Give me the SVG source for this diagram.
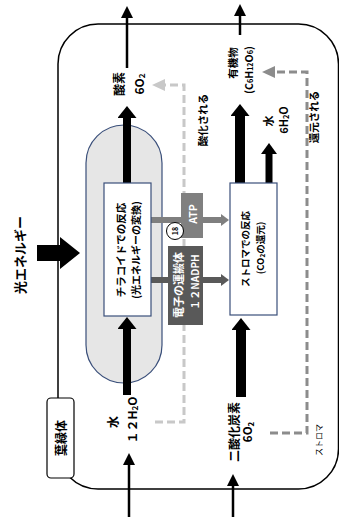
<svg xmlns="http://www.w3.org/2000/svg" width="339" height="517" viewBox="0 0 339 517">
<style>
.t{font-family:"Noto Sans CJK JP","Liberation Sans",sans-serif;font-weight:bold;fill:#000;text-anchor:middle;dominant-baseline:central}
.s{font-size:0.68em}
.w{fill:#fff}
.n{font-weight:normal}
.thin{stroke:#000;stroke-width:2.5;fill:none}
.thick{stroke:#000;fill:none}
.dl{stroke:#c8c8c8;stroke-width:3;fill:none;stroke-dasharray:8 4}
.dd{stroke:#8c8c8c;stroke-width:3;fill:none;stroke-dasharray:8 4}
.nav{stroke:#3a4f7a;stroke-width:1.2}
</style>
<defs>
<marker id="ah" markerUnits="userSpaceOnUse" viewBox="0 0 12 12" markerWidth="12" markerHeight="12" refX="1" refY="6" orient="auto"><path d="M0,0 L12,6 L0,12 Z" fill="#000"/></marker>
<marker id="ahB" markerUnits="userSpaceOnUse" viewBox="0 0 12 19" markerWidth="12" markerHeight="19" refX="1" refY="9.5" orient="auto"><path d="M0,0 L12,9.5 L0,19 Z" fill="#000"/></marker>
<marker id="ahM" markerUnits="userSpaceOnUse" viewBox="0 0 11 16" markerWidth="11" markerHeight="16" refX="1" refY="8" orient="auto"><path d="M0,0 L11,8 L0,16 Z" fill="#000"/></marker>
<marker id="ahL" markerUnits="userSpaceOnUse" viewBox="0 0 13 12" markerWidth="13" markerHeight="12" refX="1" refY="6" orient="auto"><path d="M0,0 L13,6 L0,12 Z" fill="#c8c8c8"/></marker>
<marker id="ahD" markerUnits="userSpaceOnUse" viewBox="0 0 13 12" markerWidth="13" markerHeight="12" refX="1" refY="6" orient="auto"><path d="M0,0 L13,6 L0,12 Z" fill="#8c8c8c"/></marker>
<marker id="ahG" markerUnits="userSpaceOnUse" viewBox="0 0 8 12" markerWidth="8" markerHeight="12" refX="1" refY="6" orient="auto"><path d="M0,0 L8,6 L0,12 Z" fill="#7f7f7f"/></marker>
<marker id="ahK" markerUnits="userSpaceOnUse" viewBox="0 0 8 12" markerWidth="8" markerHeight="12" refX="1" refY="6" orient="auto"><path d="M0,0 L8,6 L0,12 Z" fill="#595959"/></marker>
</defs>
<rect width="339" height="517" fill="#fff"/>

<g id="chloroplast">
<rect x="58" y="24" width="280.5" height="465" rx="40" ry="40" fill="#fff" stroke="#000" stroke-width="1.5"/>
</g>

<g id="thylakoid">
<rect x="86" y="125" width="76" height="258" rx="38" ry="38" fill="#e6e6e6" class="nav"/>
</g>

<g id="connectors">
<path d="M37,245 H60 V237 L80,253 L60,269 V261 H37 Z" fill="#000"/>
<line x1="127" y1="68" x2="127" y2="17" class="thin" marker-end="url(#ah)"/>
<line x1="240" y1="35" x2="240" y2="15" class="thin" marker-end="url(#ah)"/>
<line x1="129" y1="517" x2="129" y2="464" class="thin" marker-end="url(#ah)"/>
<line x1="233" y1="517" x2="233" y2="485" class="thin" marker-end="url(#ah)"/>
<line x1="127" y1="183" x2="127" y2="117" class="thick" stroke-width="8" marker-end="url(#ahB)"/>
<line x1="127" y1="395" x2="127" y2="328" class="thick" stroke-width="8" marker-end="url(#ahB)"/>
<line x1="240" y1="183" x2="240" y2="115" class="thick" stroke-width="10" marker-end="url(#ahB)"/>
<line x1="269" y1="183" x2="269" y2="153" class="thick" stroke-width="7" marker-end="url(#ahM)"/>
<line x1="241" y1="397" x2="241" y2="329" class="thick" stroke-width="10" marker-end="url(#ahB)"/>
<path d="M155,422 H184 V85 H164" class="dl" marker-end="url(#ahL)"/>
<path d="M270,433 H307 V72 H274" class="dd" marker-end="url(#ahD)"/>
<line x1="151" y1="220" x2="222" y2="220" stroke="#7f7f7f" stroke-width="6" marker-end="url(#ahG)"/>
<line x1="151" y1="280" x2="222" y2="280" stroke="#595959" stroke-width="6" marker-end="url(#ahK)"/>
</g>

<g id="thylakoid-reaction">
<rect x="104" y="183" width="47" height="133" fill="#fff" class="nav"/>
<text class="t" font-size="10.5" transform="translate(120,250) rotate(-90)">チラコイドでの反応</text>
<text class="t" font-size="10" transform="translate(135,250) rotate(-90)">(光エネルギーの変換)</text>
</g>

<g id="stroma-reaction">
<rect x="230" y="183" width="47" height="132" fill="#fff" class="nav"/>
<text class="t" font-size="9.5" transform="translate(245,249) rotate(-90)">ストロマでの反応</text>
<text class="t" font-size="9.5" transform="translate(260,248) rotate(-90)">(CO<tspan class="s" dy="2">2</tspan><tspan dy="-2">の還元)</tspan></text>
</g>

<g id="atp">
<rect x="181" y="193" width="22" height="45" fill="#808080"/>
<text class="t w" font-size="10.5" transform="translate(192,214) rotate(-90)">ATP</text>
</g>

<g id="nadph">
<rect x="168" y="246" width="35" height="79" fill="#595959"/>
<text class="t w" font-size="11" transform="translate(178,285) rotate(-90)">電子の運搬体</text>
<text class="t w" font-size="10" transform="translate(194,282) rotate(-90)">１２NADPH</text>
</g>

<g id="circle18">
<circle cx="175" cy="231" r="8.5" fill="#fff" stroke="#000" stroke-width="1"/>
<text class="t" font-size="7" transform="translate(175,231) rotate(-90)">18</text>
</g>

<g id="light-energy">
<text class="t" font-size="13" transform="translate(19,255) rotate(-90)">光エネルギー</text>
</g>

<g id="oxygen">
<text class="t" font-size="12" transform="translate(118,84) rotate(-90)">酸素</text>
<text class="t" font-size="12" transform="translate(138,84) rotate(-90)">6O<tspan class="s" dy="2.5">2</tspan></text>
</g>

<g id="oxidized">
<text class="t" font-size="10.5" transform="translate(202,120) rotate(-90)">酸化される</text>
</g>

<g id="organic">
<text class="t" font-size="10.5" transform="translate(232,63) rotate(-90)">有機物</text>
<text class="t" font-size="10.5" transform="translate(248,70) rotate(-90)">(C<tspan class="s" dy="2">6</tspan><tspan dy="-2">H</tspan><tspan class="s" dy="2">12</tspan><tspan dy="-2">O</tspan><tspan class="s" dy="2">6</tspan><tspan dy="-2">)</tspan></text>
</g>

<g id="water-out">
<text class="t" font-size="11" transform="translate(268,121) rotate(-90)">水</text>
<text class="t" font-size="11" transform="translate(283,120) rotate(-90)">6H<tspan class="s" dy="2">2</tspan><tspan dy="-2">O</tspan></text>
</g>

<g id="reduced">
<text class="t" font-size="10.5" transform="translate(313,117) rotate(-90)">還元される</text>
</g>

<g id="water-in">
<text class="t" font-size="12" transform="translate(112,422) rotate(-90)">水</text>
<text class="t" font-size="12" transform="translate(131,420) rotate(-90)">１２H<tspan class="s" dy="2.5">2</tspan><tspan dy="-2.5">O</tspan></text>
</g>

<g id="co2">
<text class="t" font-size="12" transform="translate(233,432) rotate(-90)">二酸化炭素</text>
<text class="t" font-size="11.5" transform="translate(247,432) rotate(-90)">6O<tspan class="s" dy="2.5">2</tspan></text>
</g>

<g id="stroma-label">
<text class="t n" font-size="8" transform="translate(318,440) rotate(-90)">ストロマ</text>
</g>

<g id="leaf-label">
<rect x="47" y="398" width="27" height="80" rx="4" ry="4" fill="#fff" stroke="#000" stroke-width="1.2"/>
<text class="t" font-size="12" transform="translate(60.5,438) rotate(-90)">葉緑体</text>
</g>
</svg>
